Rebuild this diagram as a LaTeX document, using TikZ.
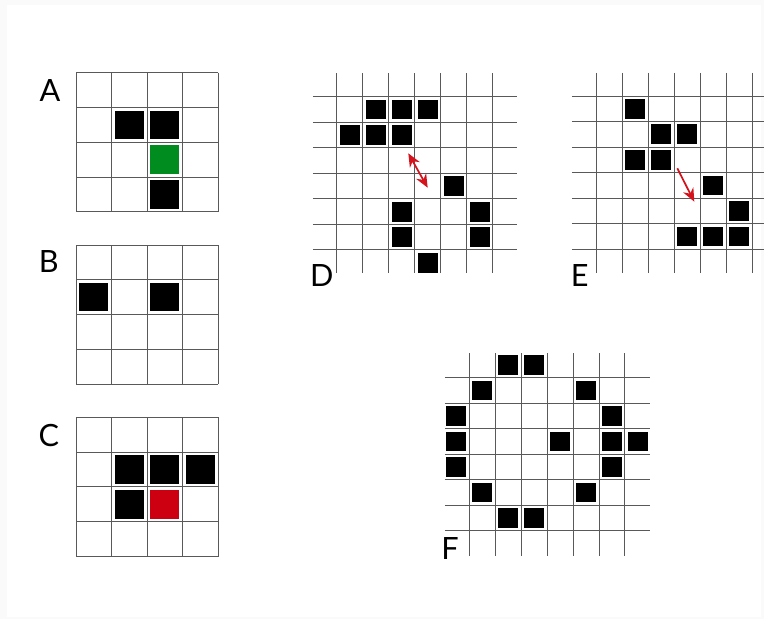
\documentclass[tikz,border=0pt]{standalone}
\usepackage{fontspec}
\setmainfont{Lato}
\usetikzlibrary{arrows.meta}
\definecolor{lifeGreen}{HTML}{008C1E}
\definecolor{lifeRed}{HTML}{CC0010}
\definecolor{moveRed}{HTML}{D4141C}
\tikzset{
  lbl/.style={font=\fontsize{23}{28}\selectfont, inner sep=0pt},
}

\begin{document}
\begin{tikzpicture}[x=0.75pt, y=-0.75pt,
  gridln/.style={draw=black!65, line width=0.75pt},
  mv/.style={draw=moveRed, line width=1.3pt},
  >={Stealth[length=10pt, width=8.5pt]}]
  \fill[black!2] (0,0) rectangle (764,619);
  \fill[white] (7,5) rectangle (761,617);
  \useasboundingbox (0,0) rectangle (764,619);

  \foreach \ytop in {72.7, 245, 417.3} {
    \begin{scope}[shift={(76,\ytop)}, x=26.625pt, y=-26.1pt]
      \foreach \i in {0,...,4} {
        \draw[gridln] (\i,0) -- (\i,4);
        \draw[gridln] (0,\i) -- (4,\i);
      }
    \end{scope}
  }
  \begin{scope}[shift={(76,72.7)}, x=26.625pt, y=-26.1pt]
    \foreach \c/\r in {1/1, 2/1, 2/3}
      \fill (\c+.09,\r+.09) rectangle (\c+.91,\r+.91);
    \fill[lifeGreen] (2.09,2.09) rectangle (2.91,2.91);
  \end{scope}
  \begin{scope}[shift={(76,245)}, x=26.625pt, y=-26.1pt]
    \foreach \c/\r in {0/1, 2/1}
      \fill (\c+.09,\r+.09) rectangle (\c+.91,\r+.91);
  \end{scope}
  \begin{scope}[shift={(76,417.3)}, x=26.625pt, y=-26.1pt]
    \foreach \c/\r in {1/1, 2/1, 3/1, 1/2}
      \fill (\c+.09,\r+.09) rectangle (\c+.91,\r+.91);
    \fill[lifeRed] (2.09,2.09) rectangle (2.91,2.91);
  \end{scope}

  \begin{scope}[shift={(336.7,96.7)}, x=19.5pt, y=-19.16pt]
    \foreach \i in {0,...,6} {
      \draw[gridln] (\i,-0.91) -- (\i,6.91);
      \draw[gridln] (-0.92,\i) -- (6.95,\i);
    }
    \foreach \c/\r in {1/0, 2/0, 3/0, 0/1, 1/1, 2/1, 4/3, 2/4, 5/4, 2/5, 5/5, 3/6}
      \fill (\c+.115,\r+.115) rectangle (\c+.885,\r+.885);
  \end{scope}
  \begin{scope}[shift={(596,96)}, x=19.54pt, y=-19.16pt]
    \foreach \i in {0,...,6} {
      \draw[gridln] (\i,-0.91) -- (\i,6.93);
      \draw[gridln] (-0.93,\i) -- (6.45,\i);
    }
    \foreach \c/\r in {1/0, 2/1, 3/1, 1/2, 2/2, 4/3, 5/4, 3/5, 4/5, 5/5}
      \fill (\c+.115,\r+.115) rectangle (\c+.885,\r+.885);
  \end{scope}
  \begin{scope}[shift={(469.3,377.7)}, x=19.46pt, y=-19.13pt]
    \foreach \i in {0,...,6} {
      \draw[gridln] (\i,-0.96) -- (\i,6.98);
      \draw[gridln] (-0.94,\i) -- (6.96,\i);
    }
    \foreach \c/\r in {1/-1, 2/-1, 0/0, 4/0, -1/1, 5/1, -1/2, 3/2, 5/2, 6/2, -1/3, 5/3, 0/4, 4/4, 1/5, 2/5}
      \fill (\c+.115,\r+.115) rectangle (\c+.885,\r+.885);
  \end{scope}

  \coordinate (dUp)   at (408.3,153.3);
  \coordinate (dDown) at (427.7,187.7);
  \coordinate (eFrom) at (677.3,168.3);
  \coordinate (eTo)   at (694.3,201.7);
  \draw[mv, <->] (dUp) -- (dDown);
  \draw[mv, ->] (eFrom) -- (eTo);

  \node[lbl] (lblA) at (50,90.7)    {A};
  \node[lbl] (lblB) at (48.8,261.7) {B};
  \node[lbl] (lblC) at (48.8,435.5) {C};
  \node[lbl] (lblD) at (321.7,275.3) {D};
  \node[lbl] (lblE) at (579.8,275.5) {E};
  \node[lbl] (lblF) at (450,549)    {F};
\end{tikzpicture}
\end{document}
